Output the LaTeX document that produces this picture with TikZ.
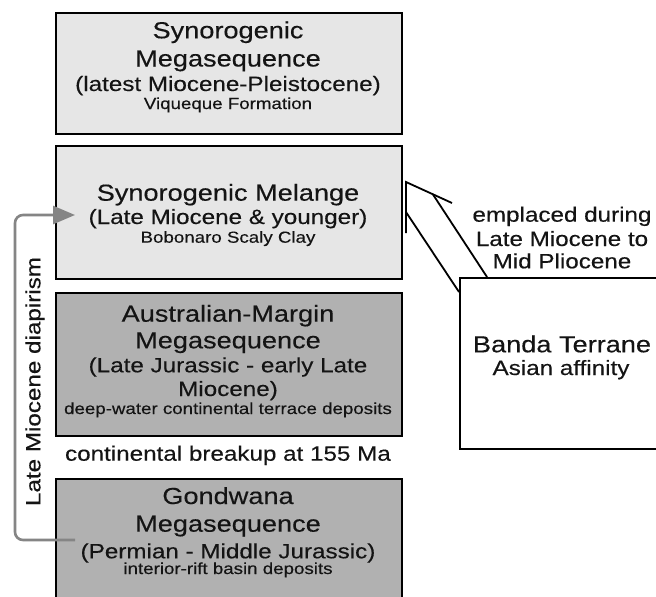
\documentclass[tikz,border=0pt]{standalone}
\usepackage{fontspec}
\setmainfont[FakeStretch=1.17,FakeBold=0.3]{Liberation Sans}
\usetikzlibrary{arrows.meta}
\newcommand\fsA{\fontsize{23.2}{27}\selectfont}
\newcommand\fsB{\fontsize{20.7}{24}\selectfont}
\newcommand\fsC{\fontsize{16}{19}\selectfont}
\definecolor{lightbox}{HTML}{E6E6E6}
\definecolor{darkbox}{HTML}{B1B1B1}
\definecolor{diapgrey}{HTML}{858585}
\definecolor{txt}{HTML}{141414}
\tikzset{
  layer/.style={draw=black, line width=2pt, anchor=north west, inner sep=0pt, minimum width=346pt},
  lbl/.style={anchor=base, inner sep=0pt, text=txt},
  emplace/.style={draw=black, line width=1.8pt, line join=miter, line cap=butt},
  diap/.style={draw=diapgrey, line width=2.6pt, rounded corners=8pt}
}
\begin{document}
\begin{tikzpicture}[x=1pt,y=-1pt]
\clip (0,0) rectangle (656,597);
\fill[white] (0,0) rectangle (656,597);
% layer boxes
\node[layer, fill=lightbox, minimum height=121pt] (b1) at (55,12) {};
\node[layer, fill=lightbox, minimum height=133pt] (b2) at (55,145) {};
\node[layer, fill=darkbox, minimum height=143pt] (b3) at (55,292) {};
\node[layer, fill=darkbox, minimum height=150pt] (b4) at (55,478) {};
\node[layer, fill=white, minimum width=206pt, minimum height=171pt] (banda) at (459,277) {};
% box 1 text
\node[lbl] (t1a) at (228,38.3) {\fsA Synorogenic};
\node[lbl] (t1b) at (228,66.5) {\fsA Megasequence};
\node[lbl] (t1c) at (228,91) {\fsB (latest Miocene-Pleistocene)};
\node[lbl] (t1d) at (228,109) {\fsC Viqueque Formation};
% box 2 text
\node[lbl] (t2a) at (228,200.7) {\fsA Synorogenic Melange};
\node[lbl] (t2b) at (228,224) {\fsB (Late Miocene \& younger)};
\node[lbl] (t2c) at (228,242.7) {\fsC Bobonaro Scaly Clay};
% box 3 text
\node[lbl] (t3a) at (228,321.7) {\fsA Australian-Margin};
\node[lbl] (t3b) at (228,348.3) {\fsA Megasequence};
\node[lbl] (t3c) at (228,372.3) {\fsB (Late Jurassic - early Late};
\node[lbl] (t3d) at (228,396) {\fsB Miocene)};
\node[lbl] (t3e) at (228,414) {\fsC deep-water continental terrace deposits};
% breakup
\node[lbl] (brk) at (228,460.7) {\fsB continental breakup at 155 Ma};
% box 4 text
\node[lbl] (t4a) at (228,504) {\fsA Gondwana};
\node[lbl] (t4b) at (228,531.7) {\fsA Megasequence};
\node[lbl] (t4c) at (228,558.3) {\fsB (Permian - Middle Jurassic)};
\node[lbl] (t4d) at (228,574) {\fsC interior-rift basin deposits};
% Banda terrane
\node[lbl] (bt1) at (562,352.3) {\fsA Banda Terrane};
\node[lbl] (bt2) at (561,375) {\fsB Asian affinity};
\node[lbl] (em1) at (562,221.7) {\fsB emplaced during};
\node[lbl] (em2) at (562,246) {\fsB Late Miocene to};
\node[lbl] (em3) at (562,268.3) {\fsB Mid Pliocene};
% emplacement arrow (open outline)
\coordinate (tip) at (406,182);
\coordinate (barbR) at (452,203);
\coordinate (barbL) at (406,233);
\coordinate (shL0) at (459,292);
\coordinate (shL1) at (406,212);
\coordinate (shR0) at (487,277);
\coordinate (shR1) at (432.8,194.2);
\draw[emplace] (barbL) -- (tip) -- (barbR);
\draw[emplace] (shL0) -- (shL1);
\draw[emplace] (shR0) -- (shR1);
% diapirism arrow
\coordinate (dS) at (75,540);
\coordinate (dE) at (75,215);
\draw[diap, -{Triangle[length=22pt,width=18pt]}] (dS) -- (15,540) -- (15,215) -- (dE);
\node[lbl, anchor=center, rotate=90] (diapl) at (35,381.5) {\fsB Late Miocene diapirism};
\end{tikzpicture}
\end{document}
